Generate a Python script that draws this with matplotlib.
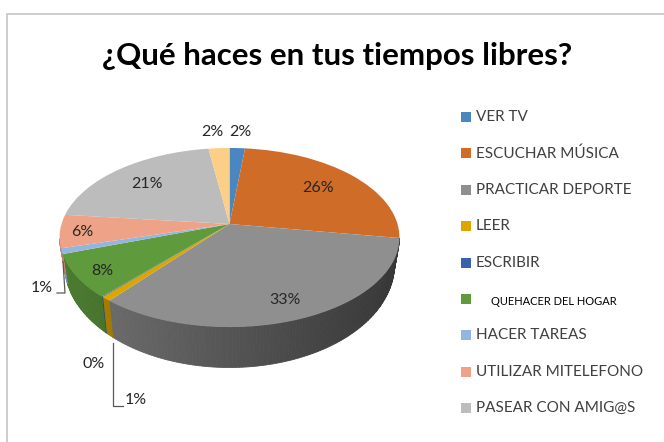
import numpy as np
import matplotlib
matplotlib.use("Agg")
import matplotlib.pyplot as plt
from matplotlib.patches import Rectangle
from matplotlib.transforms import Transform

titulo = "¿Qué haces en tus tiempos libres?"
categorias = ["VER TV", "ESCUCHAR MÚSICA", "PRACTICAR DEPORTE", "LEER", "ESCRIBIR",
              "QUEHACER DEL HOGAR", "HACER TAREAS", "UTILIZAR MITELEFONO",
              "PASEAR CON AMIG@S", "OTROS"]
valores = [1.7, 25.8, 33.4, 0.8, 0.1, 7.9, 1.0, 6.0, 21.0, 2.3]
etiquetas = ["2%", "26%", "33%", "1%", "0%", "8%", "1%", "6%", "21%", "2%"]
colores = ["#4a86c0", "#cf6c28", "#8f8f8f", "#dca500", "#3a62ac",
           "#5f9a3c", "#93b6e0", "#eea388", "#bcbcbc", "#fbcf85"]

plt.rcParams["font.family"] = ["Lato", "DejaVu Sans"]

# the 3D look: circle of radius 1 -> perspective ellipse, in pixels
CX, CY = 229.5, 224.0
K, A, B = 0.151, 87.5, 168.0
ELIPSE_Y = 238.0


def perspectiva(x, y):
    w = 1 + K * y
    return CX + B * x / w, CY - A * y / w


class Perspectiva(Transform):
    input_dims = 2
    output_dims = 2
    is_affine = False

    def transform_non_affine(self, values):
        values = np.asarray(values)
        return np.column_stack(perspectiva(values[:, 0], values[:, 1]))


def borde_inferior(px, py):
    # same ellipse parameter on the lower rim
    u_x = (px - CX) / 170.0
    u_y = (py - ELIPSE_Y) / 89.5
    return CX + 165.0 * u_x, 265.0 + 103.0 * u_y


def sombra(color, x):
    f = 0.80 - 0.42 * (x - 60) / 340
    return tuple(c * f for c in matplotlib.colors.to_rgb(color))


fig = plt.figure(figsize=(6.64, 4.42), dpi=100)
ax = fig.add_axes([0, 0, 1, 1])

# pie side, one thin strip per degree
angulo = 0.0
for valor, color in zip(valores, colores):
    fin = angulo + valor * 3.6
    pasos = np.arange(angulo, fin + 1, 1.0)
    pasos[-1] = fin
    for a1, a2 in zip(pasos[:-1], pasos[1:]):
        t = np.radians(np.linspace(a1, a2, 3))
        px, py = perspectiva(np.sin(t), np.cos(t))
        if py.mean() < ELIPSE_Y:
            continue
        qx, qy = borde_inferior(px, py)
        c = sombra(color, px.mean())
        ax.fill(np.r_[px, qx[::-1]], np.r_[py, qy[::-1]], color=c, lw=0.6, zorder=1)
    angulo = fin

# pie top
trozos, _ = ax.pie(valores, colors=colores, startangle=90, counterclock=False, radius=1)
persp = Perspectiva()
for trozo in trozos:
    trozo.set_transform(persp + ax.transData)
    trozo.set_zorder(2)

ax.set_aspect("auto")
ax.set_xlim(0, 664)
ax.set_ylim(442, 0)
ax.axis("off")

# frame
ax.plot([664, 7, 7], [14, 14, 442], color="#c9c9c9", lw=1.3, zorder=0)

ax.text(337, 56, titulo, fontsize=22.5, fontweight="bold", color="black", ha="center", va="center")

# data labels
pos_etiquetas = [(240, 132), (318, 188), (285, 300), (136, 400), (94, 364),
                 (102, 271), (42, 288), (82, 232), (147, 184), (212, 132)]
for texto, (x, y) in zip(etiquetas, pos_etiquetas):
    ax.text(x, y, texto, fontsize=11.5, color="#262626", ha="center", va="center", zorder=3)

# leader lines
ax.plot([57, 65, 63], [293, 293, 262], color="#595959", lw=0.9, zorder=3)
ax.plot([113, 113, 123], [343, 406, 406], color="#595959", lw=0.9, zorder=3)

# legend (the last slice has no entry in the original)
for i, (nombre, color) in enumerate(zip(categorias[:9], colores[:9])):
    y = 117 + i * 36.4
    ax.add_patch(Rectangle((461, y - 5), 10, 10, color=color, lw=0))
    if nombre == "QUEHACER DEL HOGAR":
        ax.text(491, y + 2.5, nombre, fontsize=8, color="black", va="center")
    else:
        ax.text(476, y, nombre, fontsize=11, color="#404040", va="center")

fig.savefig("out.png", dpi=100)
